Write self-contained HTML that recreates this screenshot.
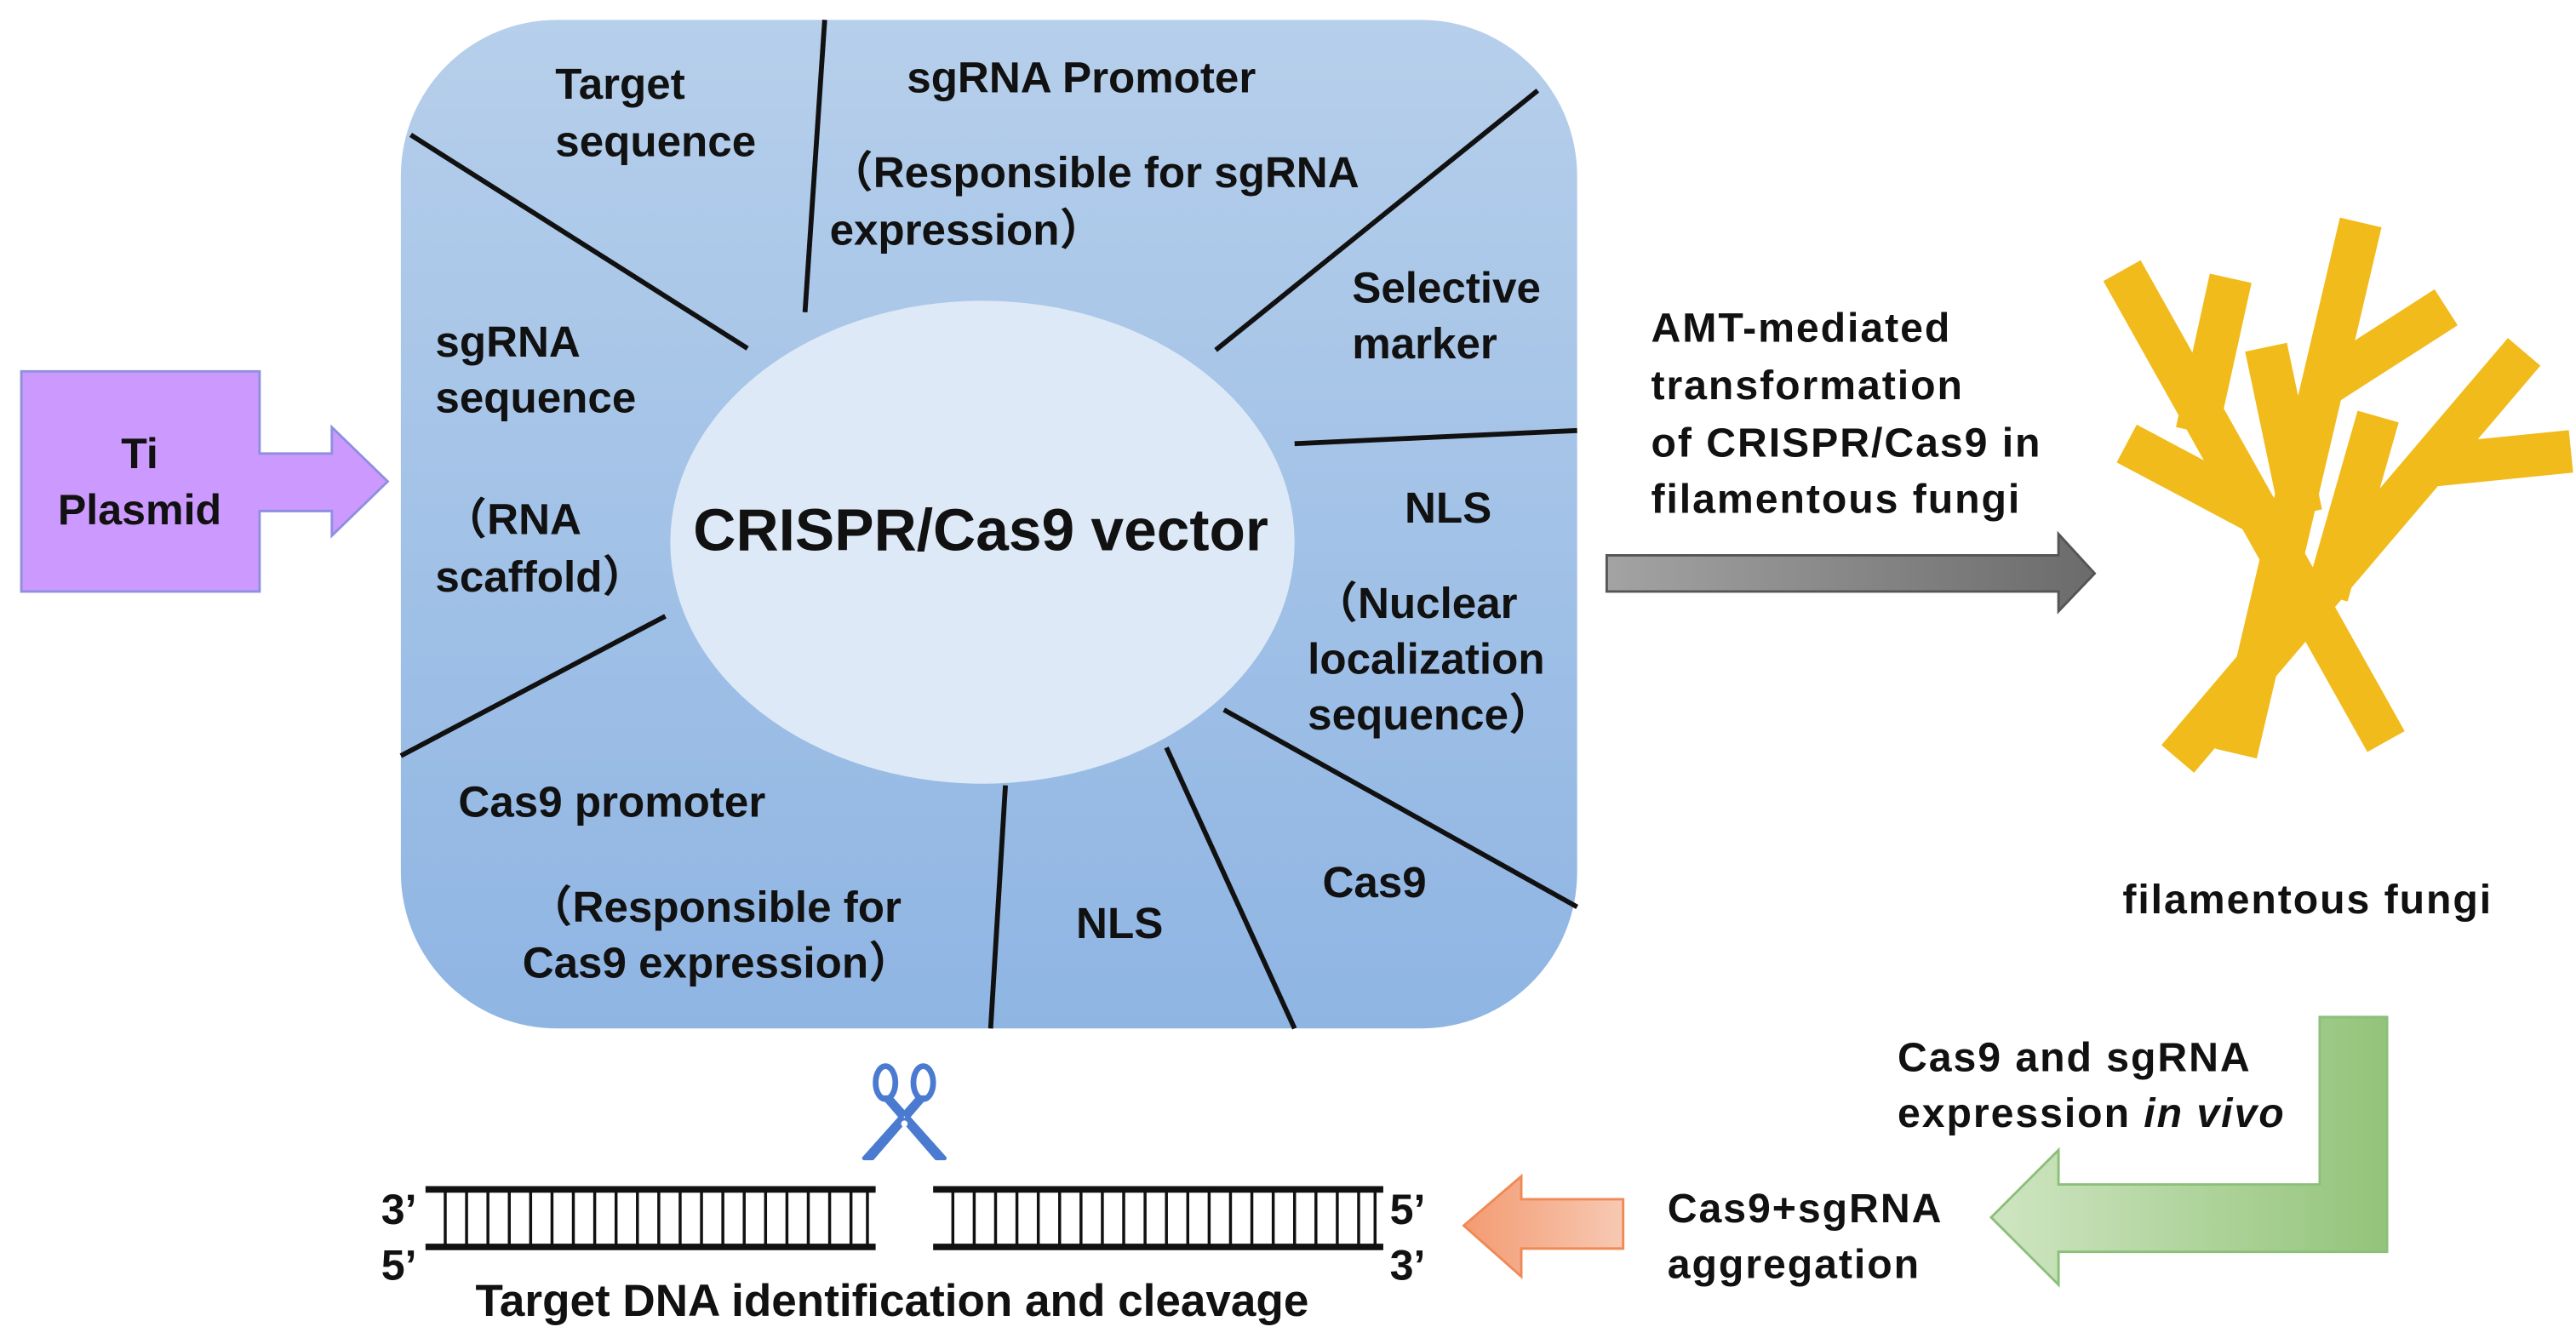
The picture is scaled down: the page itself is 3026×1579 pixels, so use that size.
<!DOCTYPE html>
<html><head><meta charset="utf-8"><style>
html,body{margin:0;padding:0;background:#fff;}
svg{display:block;}
text{font-family:"Liberation Sans","Noto Sans CJK SC",sans-serif;font-weight:bold;fill:#111;}
</style></head><body>
<svg width="3026" height="1579" viewBox="0 0 1568 818" xmlns="http://www.w3.org/2000/svg">
<defs>
<linearGradient id="bg" x1="0" y1="0" x2="0" y2="1"><stop offset="0" stop-color="#b6cfeb"/><stop offset="1" stop-color="#8fb5e3"/></linearGradient>
<linearGradient id="gr" x1="0" y1="0" x2="1" y2="0"><stop offset="0" stop-color="#a3a3a3"/><stop offset="1" stop-color="#6b6b6b"/></linearGradient>
<linearGradient id="gn" x1="0" y1="0" x2="1" y2="0"><stop offset="0" stop-color="#cfe5c2"/><stop offset="1" stop-color="#93c47a"/></linearGradient>
<linearGradient id="or" x1="0" y1="0" x2="1" y2="0"><stop offset="0" stop-color="#f39b72"/><stop offset="1" stop-color="#f7c9b3"/></linearGradient>
</defs>
<rect x="244" y="12" width="716" height="614" rx="95" fill="url(#bg)"/>
<g stroke="#111" stroke-width="3">
<line x1="502" y1="12" x2="490" y2="190"/>
<line x1="250" y1="82" x2="455" y2="212"/>
<line x1="936" y1="55" x2="740" y2="213"/>
<line x1="960" y1="262" x2="788" y2="270"/>
<line x1="244" y1="460" x2="405" y2="375"/>
<line x1="745" y1="432" x2="960" y2="552"/>
<line x1="710" y1="455" x2="788" y2="626"/>
<line x1="612" y1="478" x2="603" y2="626"/>
</g>
<ellipse cx="598" cy="330" rx="190" ry="147" fill="#dde9f6"/>
<g font-size="26.5">
<text x="338" y="60">Target</text><text x="338" y="95">sequence</text>
<text x="552" y="56">sgRNA Promoter</text>
<text x="505" y="114">（Responsible for sgRNA</text><text x="505" y="149">expression）</text>
<text x="823" y="184">Selective</text><text x="823" y="218">marker</text>
<text x="265" y="217">sgRNA</text><text x="265" y="251">sequence</text>
<text x="270" y="325">（RNA</text><text x="265" y="360">scaffold）</text>
<text x="855" y="318">NLS</text><text x="800" y="376">（Nuclear</text><text x="796" y="410">localization</text><text x="796" y="444">sequence）</text>
<text x="279" y="497">Cas9 promoter</text>
<text x="322" y="561">（Responsible for</text><text x="318" y="595">Cas9 expression）</text>
<text x="655" y="571">NLS</text><text x="805" y="546">Cas9</text>
</g>
<text x="597" y="335" font-size="36" text-anchor="middle">CRISPR/Cas9  vector</text>
<path d="M13 226H158V276H202V260L236 293L202 326V311H158V360H13Z" fill="#cc99ff" stroke="#8f8fe0" stroke-width="1.5"/>
<text x="85" y="285" font-size="26" text-anchor="middle">Ti</text>
<text x="85" y="319" font-size="26" text-anchor="middle">Plasmid</text>
<path d="M978 338H1253V325L1275 349L1253 372V360H978Z" fill="url(#gr)" stroke="#555" stroke-width="1.5"/>
<g font-size="25" letter-spacing="1">
<text x="1005" y="208"> AMT-mediated</text><text x="1005" y="243">transformation</text>
<text x="1005" y="278">of CRISPR/Cas9 in</text><text x="1005" y="312">filamentous  fungi</text>
<text x="1292" y="556">filamentous  fungi</text>
<text x="1155" y="652">Cas9 and sgRNA</text>
<text x="1155" y="686">expression <tspan font-style="italic">in vivo</tspan></text>
<text x="1015" y="744">Cas9+sgRNA</text><text x="1015" y="778">aggregation</text>
</g>
<g stroke="#f1bb1b" stroke-width="26" stroke-linecap="square" fill="none">
<line x1="1298" y1="176" x2="1446" y2="440"/>
<line x1="1434" y1="148" x2="1364" y2="446"/>
<line x1="1528" y1="224" x2="1334" y2="452"/>
<line x1="1355" y1="182" x2="1340" y2="250"/>
<line x1="1478" y1="194" x2="1425" y2="228"/>
<line x1="1306" y1="276" x2="1385" y2="318"/>
<line x1="1382" y1="224" x2="1398" y2="300"/>
<line x1="1444" y1="266" x2="1420" y2="350"/>
<line x1="1552" y1="276" x2="1492" y2="282"/>
</g>
<path d="M1412 619H1453V762H1253V782L1212 741L1253 700V721H1412Z" fill="url(#gn)" stroke="#8cc07a" stroke-width="1.5"/>
<path d="M988 730V760H926V777L891 746L926 716V730Z" fill="url(#or)" stroke="#f08a55" stroke-width="1.5"/>
<!-- scissors -->
<g stroke="#4a7bd0" fill="none" stroke-width="3.5">
<ellipse cx="539" cy="659" rx="6" ry="10"/>
<ellipse cx="562" cy="659" rx="6" ry="10"/>
</g>
<path d="M538 668L542 668L575 705L570 705Z M563 668L559 668L526 705L531 705Z" fill="#4a7bd0" stroke="#4a7bd0" stroke-width="2.5" stroke-linejoin="round"/>
<circle cx="550.5" cy="684" r="2" fill="#fff"/>
<g stroke="#111">
<line x1="259" y1="724" x2="533" y2="724" stroke-width="4"/>
<line x1="259" y1="759" x2="533" y2="759" stroke-width="4"/>
<line x1="568" y1="724" x2="842" y2="724" stroke-width="4"/>
<line x1="568" y1="759" x2="842" y2="759" stroke-width="4"/>
<path stroke-width="1.8" d="M271 724V759M284 724V759M297 724V759M310 724V759M323 724V759M336 724V759M349 724V759M362 724V759M375 724V759M388 724V759M401 724V759M414 724V759M427 724V759M440 724V759M453 724V759M466 724V759M479 724V759M492 724V759M505 724V759M518 724V759M528 724V759
M580 724V759M593 724V759M606 724V759M619 724V759M632 724V759M645 724V759M658 724V759M671 724V759M684 724V759M697 724V759M710 724V759M723 724V759M736 724V759M749 724V759M762 724V759M775 724V759M788 724V759M801 724V759M814 724V759M827 724V759M837 724V759"/>
</g>
<g font-size="26">
<text x="232" y="745">3’</text><text x="232" y="779">5’</text>
<text x="846" y="745">5’</text><text x="846" y="779">3’</text>
<text x="543" y="801" text-anchor="middle" font-size="27.5">Target DNA identification and cleavage</text>
</g>
</svg>
</body></html>
